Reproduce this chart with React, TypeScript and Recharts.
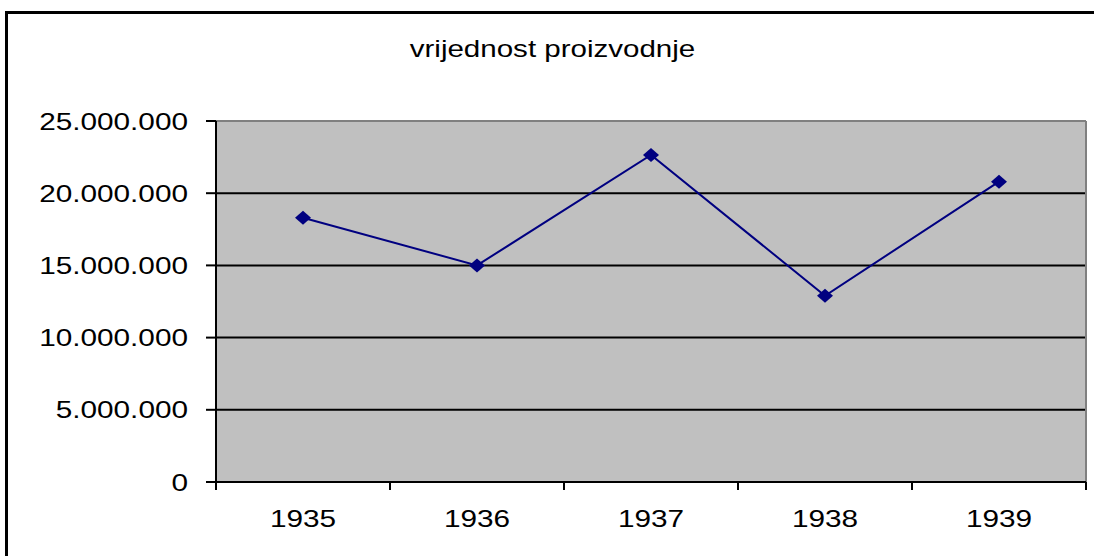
import { LineChart, Line, XAxis, YAxis, CartesianGrid, ReferenceLine } from 'recharts';

const years = ['1935', '1936', '1937', '1938', '1939'];
const values = [18300000, 15000000, 22650000, 12900000, 20800000];
const yTicks = [0, 5000000, 10000000, 15000000, 20000000, 25000000];
const xBounds = [0, 1, 2, 3, 4, 5];

const W = 1094;
const H = 556;
const LEFT = 216;
const RIGHT = 8;
const BAND = (W - LEFT - RIGHT) / years.length;
const STRETCH = 1.24;

const data = years.map((year, i) => ({ pos: i + 0.5, year, value: values[i] }));

const font = { fontFamily: '"Liberation Sans", Arial, sans-serif', fontSize: 24 };

const fmt = (v: number) => String(v).replace(/\B(?=(\d{3})+(?!\d))/g, '.');

const XTick = (props: any) => {
  const { x, y, payload } = props;
  const i = payload.value;
  if (i >= years.length) return null;
  return (
    <text
      transform={`translate(${x + BAND / 2},${y}) scale(${STRETCH},1)`}
      dy="0.71em"
      textAnchor="middle"
      fill="#000"
      style={font}
    >
      {years[i]}
    </text>
  );
};

const YTick = (props: any) => {
  const { x, y, payload } = props;
  return (
    <text
      transform={`translate(${x},${y}) scale(${STRETCH},1)`}
      dy="0.355em"
      textAnchor="end"
      fill="#000"
      style={font}
    >
      {fmt(payload.value)}
    </text>
  );
};

const Diamond = (props: any) => {
  const { cx, cy } = props;
  return (
    <polygon
      points={`${cx - 8},${cy} ${cx},${cy - 7} ${cx + 8},${cy} ${cx},${cy + 7}`}
      fill="#000080"
    />
  );
};

export default function App() {
  return (
    <div style={{ position: 'absolute', left: 0, top: 0, width: W, height: H, overflow: 'hidden', background: '#fff' }}>
      <div
        style={{
          position: 'absolute',
          left: 5,
          top: 11,
          width: 1200,
          height: 700,
          border: '3px solid #000',
        }}
      />
      <div
        style={{
          position: 'absolute',
          left: 0,
          top: 37,
          width: 1105,
          textAlign: 'center',
          lineHeight: '24px',
          fontFamily: '"Liberation Sans", Arial, sans-serif',
          fontSize: 24,
          color: '#000',
          transform: 'scaleX(1.23)',
          transformOrigin: '552.5px 0',
        }}
      >
        vrijednost proizvodnje
      </div>
      <div style={{ position: 'absolute', left: 0, top: 0 }}>
        <LineChart width={W} height={H} data={data} margin={{ top: 121, right: RIGHT, bottom: 14, left: 0 }}>
          <CartesianGrid vertical={false} fill="#c0c0c0" stroke="#000" strokeWidth={2} />
          <XAxis
            dataKey="pos"
            type="number"
            domain={[0, 5]}
            ticks={xBounds}
            interval={0}
            height={60}
            tickSize={8}
            tickMargin={20}
            axisLine={{ stroke: '#000', strokeWidth: 2 }}
            tickLine={{ stroke: '#000', strokeWidth: 2 }}
            tick={<XTick />}
          />
          <YAxis
            width={LEFT}
            domain={[0, 25000000]}
            ticks={yTicks}
            interval={0}
            tickSize={10}
            tickMargin={18}
            axisLine={{ stroke: '#000', strokeWidth: 2 }}
            tickLine={{ stroke: '#000', strokeWidth: 2 }}
            tick={<YTick />}
          />
          <ReferenceLine y={25000000} stroke="#808080" strokeWidth={2} />
          <ReferenceLine x={5} stroke="#808080" strokeWidth={2} />
          <Line
            dataKey="value"
            stroke="#000080"
            strokeWidth={2}
            dot={<Diamond />}
            activeDot={false}
            isAnimationActive={false}
          />
        </LineChart>
      </div>
    </div>
  );
}
